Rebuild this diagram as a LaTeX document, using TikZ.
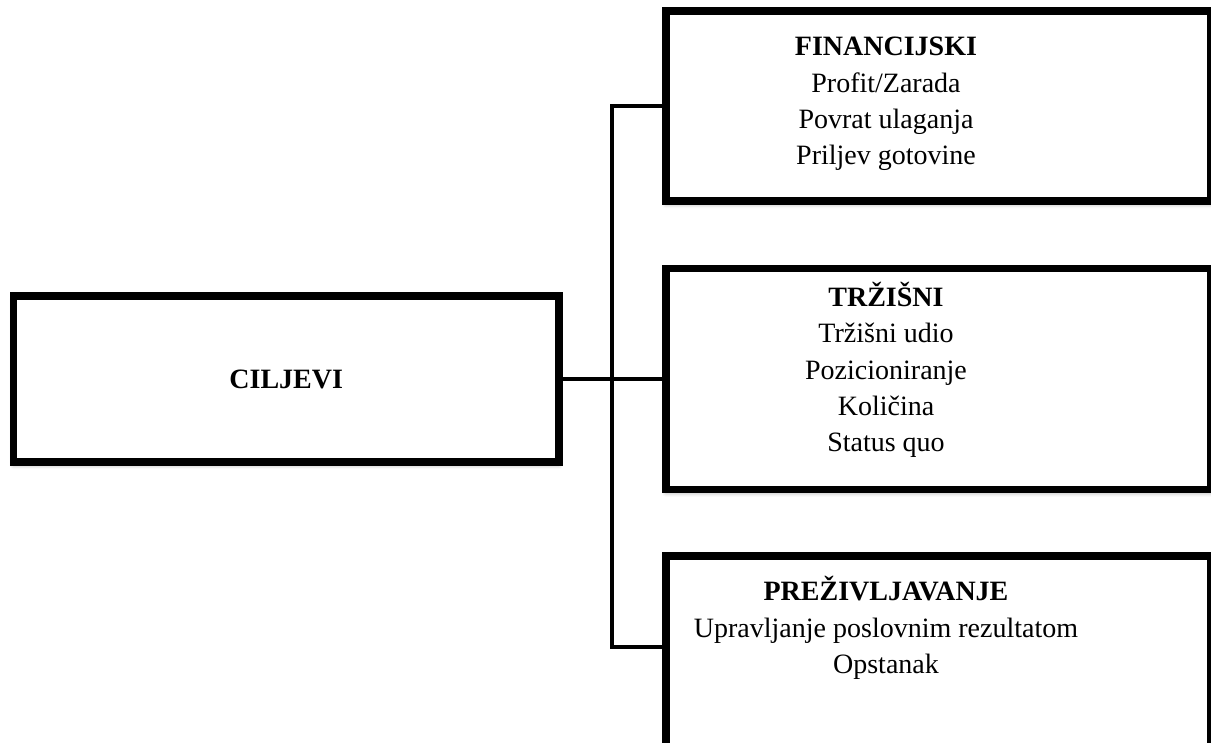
\documentclass[tikz,border=0pt]{standalone}
\usepackage{fontspec}
\setmainfont{Liberation Serif}
\usetikzlibrary{positioning, calc, shadows.blur}

\begin{document}
\begin{tikzpicture}[
    x=0.75pt, y=-0.75pt,
    goalBox/.style={draw=black, line width=5.6pt, rectangle, fill=white, minimum width=409pt, blur shadow={shadow xshift=0pt, shadow yshift=-2.5pt, shadow blur radius=3pt, shadow opacity=35}},
    goalText/.style={align=center, inner sep=0pt, font=\fontsize{21}{27.2}\selectfont},
    link/.style={draw=black, line width=3.5pt},
]
\useasboundingbox (0,0) rectangle (1211,746);
\begin{scope}
\clip (0,0) rectangle (1211,742.5);
\node[goalBox, minimum height=124.5pt] (cilj) at (286.25,379) {};
\node[goalBox, minimum height=142.5pt] (fin) at (938.5,106) {};
\node[goalBox, minimum height=165.75pt] (trz) at (938.5,379) {};
\node[goalBox, minimum height=153pt] (prez) at (938.5,658) {};
\node[goalText] (ciljText) at (cilj) {\textbf{CILJEVI}};
\node[goalText] (finText) at (886,104) {\textbf{FINANCIJSKI}\\Profit/Zarada\\Povrat ulaganja\\Priljev gotovine};
\node[goalText] (trzText) at (886,370) {\textbf{TRŽIŠNI}\\Tržišni udio\\Pozicioniranje\\Količina\\Status quo};
\node[goalText] (prezText) at (886,628) {\textbf{PREŽIVLJAVANJE}\\Upravljanje poslovnim rezultatom\\Opstanak};
\coordinate (busBot) at (612,647);
\draw[link] (cilj) -- (trz);
\draw[link] (fin.west) -| (busBot) -- (prez.west |- busBot);
\end{scope}
\end{tikzpicture}
\end{document}
